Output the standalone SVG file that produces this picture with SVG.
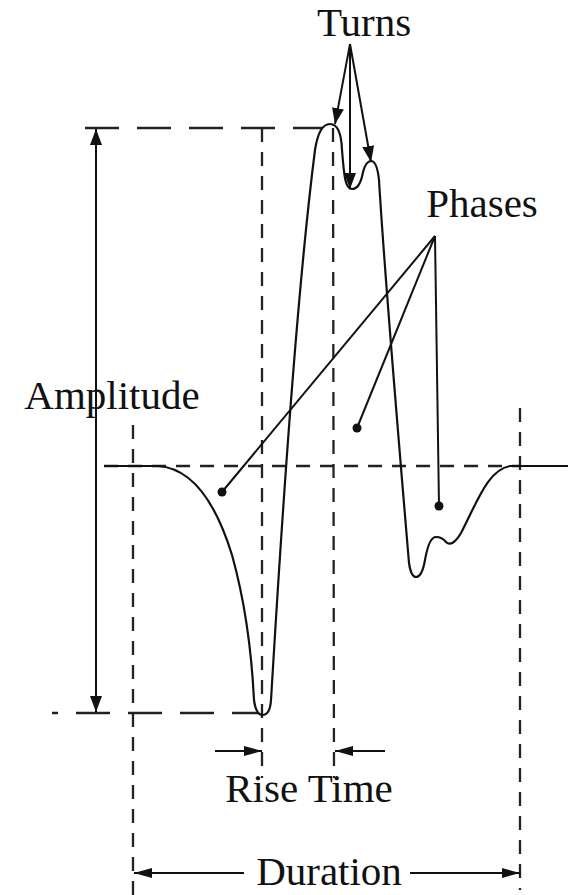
<svg xmlns="http://www.w3.org/2000/svg" width="568" height="895" viewBox="0 0 568 895">
<style>
text{font-family:'Liberation Serif','Times New Roman',serif;font-size:41px;fill:#111;text-anchor:middle}
.ln{stroke:#111;stroke-width:2;fill:none}
.dl{stroke:#222;stroke-width:2.3;fill:none;stroke-dasharray:34 18}
.dv{stroke:#222;stroke-width:2.3;fill:none;stroke-dasharray:14 10}
.wave{stroke:#111;stroke-width:2.2;fill:none;stroke-linejoin:round}
.dot{fill:#111}
</style>
<defs>
<marker id="ah" viewBox="0 0 16 12" refX="16" refY="6" markerWidth="16" markerHeight="12" markerUnits="userSpaceOnUse" orient="auto">
<path d="M0,0 L16,6 L0,12 Z" fill="#111"/>
</marker>
<marker id="ahs" viewBox="0 0 18 10" refX="18" refY="5" markerWidth="18" markerHeight="10" markerUnits="userSpaceOnUse" orient="auto">
<path d="M0,0 L18,5 L0,10 Z" fill="#111"/>
</marker>
</defs>
<g id="guides">
<line class="dl" x1="85" y1="128" x2="322" y2="128"/>
<line class="dl" x1="52" y1="713" x2="258" y2="713" stroke-dashoffset="28"/>
<line class="dv" x1="104" y1="466" x2="520" y2="466"/>
<line class="dv" x1="133" y1="425" x2="133" y2="895"/>
<line class="dv" x1="262" y1="128" x2="262" y2="778"/>
<line class="dv" x1="333" y1="128" x2="334" y2="778"/>
<line class="dv" x1="520" y1="408" x2="520" y2="890"/>
</g>
<g id="waveform">
<path class="wave" d="M104,466 L158,466 C190,468 215,500 232,555 C246,605 252,660 254,700 Q256,715 262.5,715 Q270,715 271,700 C276,620 292,330 315,150 Q319,124 330,124 Q341,124 342,150 C344,175 345,189 352,189 Q360,189 363,172 Q366,161 371,161 Q377,161 379,180 C385,280 402,480 409,563 Q411,577 416,577 Q422,577 425,560 Q429,537 436,537 Q442,537 446,542 Q452,548 461,533 C478,500 488,470 510,466 L568,466"/>
</g>
<g id="connectors">
<line class="ln" x1="96" y1="420" x2="96" y2="129" marker-end="url(#ah)"/>
<line class="ln" x1="96" y1="420" x2="96" y2="712" marker-end="url(#ah)"/>
<line class="ln" x1="350" y1="44" x2="335" y2="124" marker-end="url(#ah)"/>
<line class="ln" x1="350" y1="44" x2="350" y2="189" marker-end="url(#ah)"/>
<line class="ln" x1="350" y1="44" x2="371" y2="162" marker-end="url(#ah)"/>
<line class="ln" x1="435" y1="236" x2="222" y2="492"/>
<line class="ln" x1="435" y1="236" x2="357" y2="428"/>
<line class="ln" x1="435" y1="236" x2="439" y2="506"/>
<line class="ln" x1="215" y1="751" x2="262" y2="751" marker-end="url(#ahs)"/>
<line class="ln" x1="385" y1="751" x2="335" y2="751" marker-end="url(#ahs)"/>
<line class="ln" x1="244" y1="873" x2="134" y2="873" marker-end="url(#ahs)"/>
<line class="ln" x1="410" y1="873" x2="520" y2="873" marker-end="url(#ahs)"/>
<circle class="dot" cx="222" cy="492" r="4.5"/>
<circle class="dot" cx="357" cy="428" r="4.5"/>
<circle class="dot" cx="439" cy="506" r="4.5"/>
</g>
<g id="labels">
<text x="364" y="36">Turns</text>
<text x="482" y="217">Phases</text>
<text x="112" y="409">Amplitude</text>
<text x="309" y="802">Rise Time</text>
<text x="329" y="885">Duration</text>
</g>
</svg>
